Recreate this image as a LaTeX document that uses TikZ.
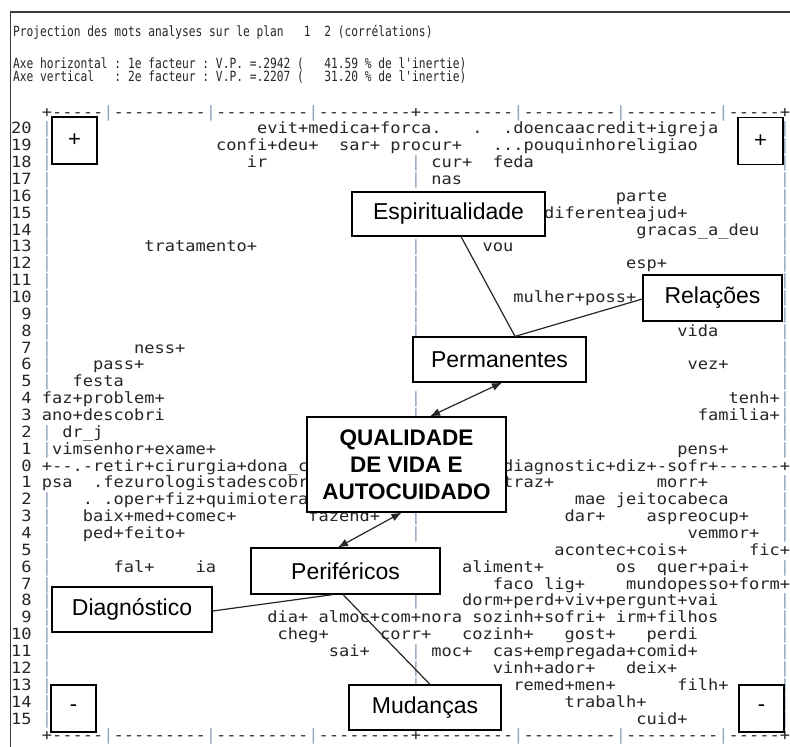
\documentclass[tikz,border=0pt]{standalone}
\usepackage{fontspec}
\setmainfont{Liberation Sans}
\newfontfamily\plotmono{DejaVu Sans Mono}[Ligatures=TeXOff,FakeStretch=1.1]
\newfontfamily\headmono{DejaVu Sans Mono}[Ligatures=TeXOff,FakeStretch=0.8]
\usetikzlibrary{arrows.meta,calc}

\definecolor{ink}{HTML}{262626}
\definecolor{axisbar}{HTML}{8FA3BC}
\definecolor{framecol}{HTML}{3A3A3A}

% one word of the listing, placed on the character grid (row, column)
\newcommand\pw[3]{\node[plottext] (w#1c#2) at ({11.1+10.25*(#2)},{133.9+16.86*(#1)}) {#3};}
% one axis bar character of the listing
\newcommand\pbar[2]{\node[plottext,text=axisbar] (b#1c#2) at ({11.1+10.25*(#2)},{133.9+16.86*(#1)}) {|};}
\newcommand\rb{{\color{axisbar}|}}
\newcommand\rulerline{+-----\rb---------\rb---------\rb---------+---------\rb---------\rb---------\rb-----+}

\begin{document}
\begin{tikzpicture}[x=1pt,y=-1pt,
  plottext/.style={anchor=base west,inner sep=0pt,outer sep=0pt,text=ink,
    font=\plotmono\fontsize{15.48}{15.48}\selectfont\frenchspacing},
  headtext/.style={anchor=base west,inner sep=0pt,outer sep=0pt,text=ink,
    font=\headmono\fontsize{14.05}{14.05}\selectfont\frenchspacing},
  tag/.style={draw=black,line width=1.2pt,fill=white,inner sep=0pt,text=black,
    font=\fontsize{23}{23}\selectfont},
  corner/.style={tag,minimum width=45pt,minimum height=47pt,font=\fontsize{22}{22}\selectfont},
  link/.style={draw=black!85,line width=1.2pt},
  both tips/.style={link,{Latex[length=10pt,width=8pt]}-{Latex[length=10pt,width=8pt]}},
  frame/.style={draw=framecol,line width=1.5pt}]

\useasboundingbox (0,0) rectangle (790,747);
\fill[white] (0,0) rectangle (790,747);

% window frame
\draw[frame] (10.5,747) -- (10.5,12) -- (790,12);

% header
\node[headtext] (head1) at (13,36) {Projection des mots analyses sur le plan~~~1~~2 (corrélations)};
\node[headtext] (head2) at (13,68) {Axe horizontal : 1e facteur : V.P. =.2942 (~~~41.59 \% de l'inertie)};
\node[headtext] (head3) at (13,81.5) {Axe vertical~~~: 2e facteur : V.P. =.2207 (~~~31.20 \% de l'inertie)};

% rulers
\pw{-1}{3}{\rulerline}
\pw{36}{3}{\rulerline}

% row numbers
\foreach \i in {0,...,10} {\pgfmathtruncatemacro\lab{20-\i}\pw{\i}{0}{\lab}}
\foreach \i in {11,...,20} {\pgfmathtruncatemacro\lab{20-\i}\pw{\i}{1}{\lab}}
\foreach \i in {21,...,29} {\pgfmathtruncatemacro\lab{\i-20}\pw{\i}{1}{\lab}}
\foreach \i in {30,...,35} {\pgfmathtruncatemacro\lab{\i-20}\pw{\i}{0}{\lab}}

% axis bars
\foreach \i in {0,...,15,18,19,22,23,...,35} {\pbar{\i}{3}}
\foreach \i in {2,3,7,8,9,10,11,12,16,17,23,24,28,31,32,33} {\pbar{\i}{39}}
\foreach \i in {0,...,19,21,22,23,24,26,28,29,...,35} {\pbar{\i}{75}}

% words
\pw{0}{24}{evit+medica+forca.~~~.~~.doencaacredit+igreja}
\pw{1}{20}{confi+deu+}
\pw{1}{32}{sar+}
\pw{1}{37}{procur+}
\pw{1}{47}{...pouquinhoreligiao}
\pw{2}{23}{ir}
\pw{2}{41}{cur+}
\pw{2}{47}{feda}
\pw{3}{41}{nas}
\pw{4}{59}{parte}
\pw{5}{52}{diferenteajud+}
\pw{6}{61}{gracas\_a\_deu}
\pw{7}{13}{tratamento+}
\pw{7}{46}{vou}
\pw{8}{60}{esp+}
\pw{10}{49}{mulher+poss+}
\pw{12}{65}{vida}
\pw{13}{12}{ness+}
\pw{14}{8}{pass+}
\pw{14}{66}{vez+}
\pw{15}{6}{festa}
\pw{16}{3}{faz+problem+}
\pw{16}{70}{tenh+}
\pw{17}{3}{ano+descobri}
\pw{17}{67}{familia+}
\pw{18}{5}{dr\_j}
\pw{19}{4}{vimsenhor+exame+}
\pw{19}{65}{pens+}
\pw{20}{3}{+--.-retir+cirurgia+dona\_c}
\pw{20}{48}{diagnostic+diz+-sofr+------+}
\pw{21}{3}{psa}
\pw{21}{8}{.fezurologistadescobr}
\pw{21}{48}{traz+}
\pw{21}{63}{morr+}
\pw{22}{7}{.~.oper+fiz+quimiotera}
\pw{22}{55}{mae~jeitocabeca}
\pw{23}{7}{baix+med+comec+}
\pw{23}{29}{fazend+}
\pw{23}{54}{dar+}
\pw{23}{62}{aspreocup+}
\pw{24}{7}{ped+feito+}
\pw{24}{66}{vemmor+}
\pw{25}{53}{acontec+cois+}
\pw{25}{72}{fic+}
\pw{26}{10}{fal+}
\pw{26}{18}{ia}
\pw{26}{44}{aliment+}
\pw{26}{59}{os}
\pw{26}{63}{quer+pai+}
\pw{27}{47}{faco~lig+}
\pw{27}{60}{mundopesso+form+}
\pw{28}{44}{dorm+perd+viv+pergunt+vai}
\pw{29}{25}{dia+~almoc+com+nora~sozinh+sofri+~irm+filhos}
\pw{30}{26}{cheg+}
\pw{30}{36}{corr+}
\pw{30}{44}{cozinh+}
\pw{30}{54}{gost+}
\pw{30}{62}{perdi}
\pw{31}{31}{sai+}
\pw{31}{41}{moc+}
\pw{31}{47}{cas+empregada+comid+}
\pw{32}{47}{vinh+ador+}
\pw{32}{60}{deix+}
\pw{33}{49}{remed+men+}
\pw{33}{65}{filh+}
\pw{34}{54}{trabalh+}
\pw{35}{61}{cuid+}

% corner signs
\node[corner] (cTL) at (74.5,140.5) {+};
\node[corner] (cTR) at (760.5,141) {+};
\node[corner] (cBL) at (73.5,708.5) {-};
\node[corner] (cBR) at (761.5,708.5) {-};

% theme boxes
\node[tag,minimum width=193pt,minimum height=44pt] (espi) at (448.5,214) {Espiritualidade};
\node[tag,minimum width=139pt,minimum height=46pt] (relac) at (712.5,298) {Relações};
\node[tag,minimum width=173pt,minimum height=45pt] (perm) at (499.5,359.5) {Permanentes};
\node[tag,minimum width=199pt,minimum height=95pt,align=center,
      font=\bfseries\fontsize{22.5}{27}\selectfont] (qual) at (406.5,464.5) {QUALIDADE\\DE VIDA E\\AUTOCUIDADO};
\node[tag,minimum width=189pt,minimum height=46pt] (peri) at (345.5,571) {Periféricos};
\node[tag,minimum width=160pt,minimum height=45pt] (diag) at (132,609.5) {Diagnóstico};
\node[tag,minimum width=152pt,minimum height=45pt] (mud) at (425,707.5) {Mudanças};

% connectors
\coordinate (pjoin) at ($(perm.north)+(15.5,0)$);
\draw[link] ($(espi.south)+(12.5,0)$) -- (pjoin);
\draw[link] ($(relac.west)+(0,1)$) -- (pjoin);
\draw[both tips] ($(perm.south)+(2.5,0)$) -- ($(qual.north)+(23.5,0)$);
\draw[both tips] ($(qual.south)+(-5,0)$) -- ($(peri.north)+(-7.5,0)$);
\draw[link] ($(peri.south)+(-12.5,0)$) -- ($(diag.east)+(0,1.5)$);
\draw[link] ($(peri.south)+(-2.5,0)$) -- ($(mud.north)+(5,0)$);
\end{tikzpicture}
\end{document}
